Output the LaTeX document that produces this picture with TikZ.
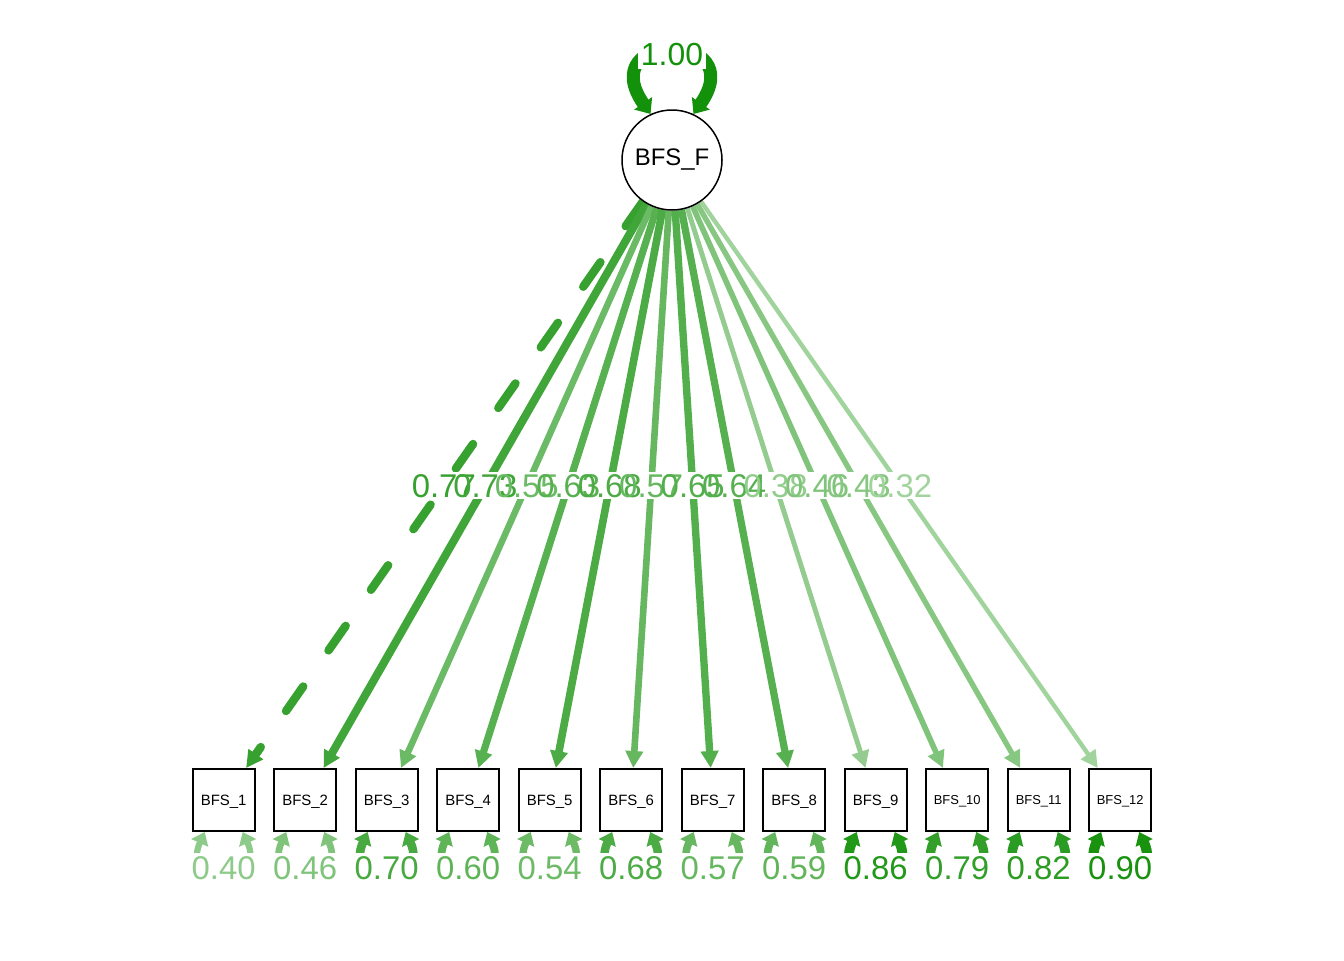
\documentclass[tikz,border=0pt]{standalone}
\usepackage{fontspec}
\setmainfont{Liberation Sans}
\usetikzlibrary{arrows.meta,calc}
\definecolor{pathgreen}{RGB}{20,145,10}
\pgfdeclarelayer{fg}
\pgfsetlayers{main,fg}
\tikzset{
  latent/.style={circle, draw=black, fill=white, line width=1.5bp, minimum size=100bp,
    inner sep=0pt, font=\fontsize{24}{28}\selectfont},
  manifest/.style={rectangle, draw=black, fill=white, line width=2bp, minimum size=62bp,
    inner sep=0pt, text depth=0pt},
  loadlbl/.style={font=\fontsize{33}{38}\selectfont, inner sep=2bp},
  residlbl/.style={font=\fontsize{33}{38}\selectfont, inner sep=3bp},
  loadtip/.style={-{Triangle[length=17bp,width=17bp]}},
  residtip/.style={{Triangle[length=12bp,width=18bp]}-{Triangle[length=12bp,width=18bp]}},
}
\begin{document}
\begin{tikzpicture}[x=1bp,y=-1bp]
\useasboundingbox (0,0) rectangle (1344,960);

% nodes sit on the foreground layer, above the paths
\begin{pgfonlayer}{fg}
  \node[latent] (lat) at (672,160) {BFS\_F};
  \foreach \i in {1,...,12} {
    \pgfmathsetmacro\xx{223.7+81.5*(\i-1)}
    \ifnum\i<10 \def\fs{15}\else\def\fs{13}\fi
    \node[manifest, font=\fontsize{\fs}{\fs}\selectfont] (o\i) at (\xx,800) {BFS\_\i};
  }
\end{pgfonlayer}

% factor loadings
\foreach \i/\v in {1/0.77,2/0.73,3/0.55,4/0.63,5/0.68,6/0.57,7/0.65,8/0.64,9/0.38,10/0.46,11/0.43,12/0.32} {
  \pgfmathsetmacro\pc{min(100,8+100*\v)}
  \pgfmathsetmacro\lw{1.5+9*\v}
  \colorlet{ec}{pathgreen!\pc!white}
  \ifnum\i=1
    \draw[color=ec, line width=\lw bp, dash pattern=on 30bp off 44bp, line cap=round, loadtip] (lat) -- (o\i);
  \else
    \draw[color=ec, line width=\lw bp, loadtip] (lat) -- (o\i);
  \fi
}

% label backgrounds first, then the label texts
\foreach \i/\v in {1/0.77,2/0.73,3/0.55,4/0.63,5/0.68,6/0.57,7/0.65,8/0.64,9/0.38,10/0.46,11/0.43,12/0.32} {
  \path (lat.center) -- (o\i.center) node[pos=0.509, loadlbl, fill=white] (bg\i) {\phantom{\v}};
}
\foreach \i/\v in {1/0.77,2/0.73,3/0.55,4/0.63,5/0.68,6/0.57,7/0.65,8/0.64,9/0.38,10/0.46,11/0.43,12/0.32} {
  \pgfmathsetmacro\pc{min(100,8+100*\v)}
  \colorlet{ec}{pathgreen!\pc!white}
  \node[loadlbl, text=ec] (l\i) at (bg\i.center) {\v};
}

% residual variances
\foreach \i/\r in {1/0.40,2/0.46,3/0.70,4/0.60,5/0.54,6/0.68,7/0.57,8/0.59,9/0.86,10/0.79,11/0.82,12/0.90} {
  \pgfmathsetmacro\pc{min(100,8+100*\r)}
  \pgfmathsetmacro\rw{3+8*\r}
  \colorlet{ec}{pathgreen!\pc!white}
  \draw[color=ec, line width=\rw bp, residtip]
    ($(o\i.south)+(-19,0)$) .. controls ($(o\i.south)+(-44,55)$) and ($(o\i.south)+(44,55)$) .. ($(o\i.south)+(19,0)$);
  \node[residlbl, fill=white, text=ec] (r\i) at ($(o\i.center)+(0,68)$) {\r};
}

% latent variance
\draw[color=pathgreen, line width=13bp, {Triangle[length=13bp,width=21bp]}-{Triangle[length=13bp,width=21bp]}]
  (lat.115) .. controls (592,30) and (752,30) .. (lat.65);
\node[font=\fontsize{32}{36}\selectfont, inner sep=3bp, fill=white, text=pathgreen] (lv) at (672,55) {1.00};
\end{tikzpicture}
\end{document}
